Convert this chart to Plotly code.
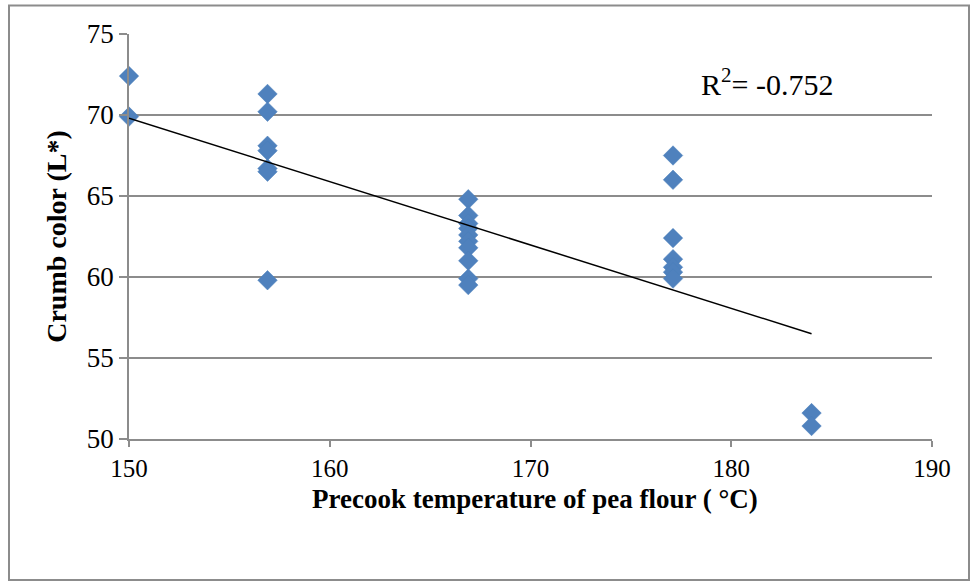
import plotly.graph_objects as go

# Data
temp_x = [150.0, 150.0,
          156.9, 156.9, 156.9, 156.9, 156.9, 156.9, 156.9,
          166.9, 166.9, 166.9, 166.9, 166.9, 166.9, 166.9, 166.9, 166.9, 166.9,
          177.1, 177.1, 177.1, 177.1, 177.1, 177.1, 177.1,
          184.0, 184.0]
crumb_L = [72.4, 69.9,
           71.3, 70.2, 68.1, 67.8, 66.7, 66.5, 59.8,
           64.8, 63.8, 63.3, 63.0, 62.6, 62.2, 61.8, 61.0, 59.9, 59.5,
           67.5, 66.0, 62.4, 61.1, 60.6, 60.3, 59.9,
           51.6, 50.8]
trend_x = [150.0, 184.0]
trend_y = [69.8, 56.5]
x_ticks = [150, 160, 170, 180, 190]
y_ticks = [50, 55, 60, 65, 70, 75]
r2_text = "R<sup>2</sup>= -0.752"
x_title = "<b>Precook temperature of pea flour ( °C)</b>"
y_title = "<b>Crumb color (L*)</b>"

FONT = "Liberation Serif, Times New Roman, serif"
GRID = "#8c8c8c"

fig = go.Figure()
fig.add_trace(go.Scatter(
    x=temp_x, y=crumb_L, mode="markers",
    marker=dict(symbol="diamond", size=15, color="#4F81BD",
                line=dict(color="#4A7EBB", width=0.5)),
    showlegend=False, cliponaxis=False))
fig.add_trace(go.Scatter(
    x=trend_x, y=trend_y, mode="lines",
    line=dict(color="black", width=1.5), showlegend=False))

W, H = 973, 581
L, R, T, B = 129, 41, 34, 142
pw, ph = W - L - R, H - T - B

def px2paper_x(px):
    return (px - L) / pw

def px2paper_y(py):
    return 1 - (py - T) / ph

fig.add_shape(type="rect", xref="paper", yref="paper",
              x0=px2paper_x(9), x1=px2paper_x(969),
              y0=px2paper_y(580), y1=px2paper_y(5.5),
              line=dict(color="#8c8c8c", width=2), fillcolor="rgba(0,0,0,0)",
              layer="below")

fig.add_annotation(x=px2paper_x(767), y=px2paper_y(82), xref="paper", yref="paper",
                   text=r2_text, showarrow=False, xanchor="center", yanchor="middle",
                   font=dict(family=FONT, size=30, color="black"))

fig.add_annotation(x=px2paper_x(535), y=px2paper_y(499), xref="paper", yref="paper",
                   text=x_title, showarrow=False, xanchor="center", yanchor="middle",
                   borderpad=0,
                   font=dict(family=FONT, size=27, color="black"))

fig.update_layout(
    width=W, height=H,
    margin=dict(l=L, r=R, t=T, b=B, pad=0),
    paper_bgcolor="white", plot_bgcolor="white",
    font=dict(family=FONT, color="black"),
    xaxis=dict(range=[150, 190], tickvals=x_ticks, showgrid=False,
               showline=True, linecolor=GRID, linewidth=1.5,
               ticks="outside", ticklen=6, tickcolor=GRID, tickwidth=1.5,
               tickfont=dict(family=FONT, size=25, color="black"),
               zeroline=False),
    yaxis=dict(range=[50, 75], tickvals=y_ticks, showgrid=True,
               gridcolor=GRID, gridwidth=1.5,
               showline=True, linecolor=GRID, linewidth=1.5,
               ticks="outside", ticklen=8, tickcolor=GRID, tickwidth=1.5,
               tickfont=dict(family=FONT, size=27, color="black"),
               zeroline=False,
               title=dict(text=y_title,
                          font=dict(family=FONT, size=28, color="black"),
                          standoff=12)),
)

fig.write_html("out.html")
